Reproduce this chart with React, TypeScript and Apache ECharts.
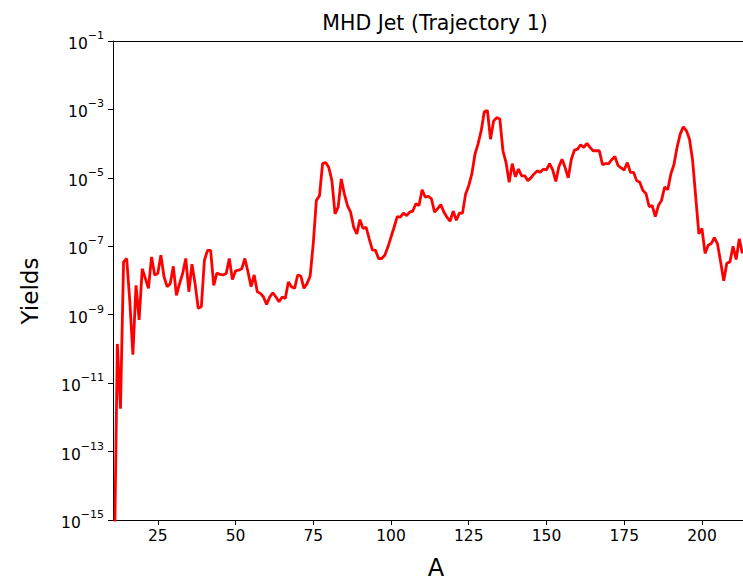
import React, { useEffect, useRef } from "react";
import * as echarts from "echarts";

const titleText = "MHD Jet (Trajectory 1)";
const xAxisName = "A";
const yAxisName = "Yields";

const xTickValues = [25, 50, 75, 100, 125, 150, 175, 200];
const yTickValues = [1e-15, 1e-13, 1e-11, 1e-9, 1e-7, 1e-5, 1e-3, 1e-1];

const massNumbers = [
  11, 12, 13, 14, 15, 16, 17, 18, 19, 20,
  21, 22, 23, 24, 25, 26, 27, 28, 29, 30,
  31, 32, 33, 34, 35, 36, 37, 38, 39, 40,
  41, 42, 43, 44, 45, 46, 47, 48, 49, 50,
  51, 52, 53, 54, 55, 56, 57, 58, 59, 60,
  61, 62, 63, 64, 65, 66, 67, 68, 69, 70,
  71, 72, 73, 74, 75, 76, 77, 78, 79, 80,
  81, 82, 83, 84, 85, 86, 87, 88, 89, 90,
  91, 92, 93, 94, 95, 96, 97, 98, 99, 100,
  101, 102, 103, 104, 105, 106, 107, 108, 109, 110,
  111, 112, 113, 114, 115, 116, 117, 118, 119, 120,
  121, 122, 123, 124, 125, 126, 127, 128, 129, 130,
  131, 132, 133, 134, 135, 136, 137, 138, 139, 140,
  141, 142, 143, 144, 145, 146, 147, 148, 149, 150,
  151, 152, 153, 154, 155, 156, 157, 158, 159, 160,
  161, 162, 163, 164, 165, 166, 167, 168, 169, 170,
  171, 172, 173, 174, 175, 176, 177, 178, 179, 180,
  181, 182, 183, 184, 185, 186, 187, 188, 189, 190,
  191, 192, 193, 194, 195, 196, 197, 198, 199, 200,
  201, 202, 203, 204, 205, 206, 207, 208, 209, 210,
  211, 212, 213,
];

const yields = [
  // 11-20
  3.2e-17, 1.4e-10, 1.8e-12, 3.5e-8, 4.4e-8, 2.5e-9, 6.8e-11, 7.2e-9, 7.1e-10, 2.2e-8,
  // 21-30
  1.15e-8, 5.9e-9, 4.9e-8, 1.45e-8, 1.6e-8, 5.5e-8, 1.3e-8, 6.6e-9, 8.1e-9, 2.6e-8,
  // 31-40
  3.7e-9, 8.1e-9, 1.6e-8, 4.4e-8, 4.7e-9, 3.0e-8, 8.1e-9, 1.55e-9, 1.7e-9, 3.9e-8,
  // 41-50
  7.6e-8, 7.6e-8, 7.2e-9, 1.65e-8, 1.5e-8, 1.45e-8, 1.6e-8, 4.4e-8, 1.07e-8, 1.9e-8,
  // 51-60
  2.0e-8, 2.2e-8, 4.4e-8, 1.8e-8, 6.6e-9, 1.45e-8, 4.7e-9, 4.2e-9, 3.3e-9, 2.0e-9,
  // 61-70
  3.3e-9, 4.4e-9, 3.3e-9, 2.4e-9, 3.3e-9, 3.0e-9, 9.1e-9, 6.6e-9, 5.9e-9, 1.45e-8,
  // 71-80
  1.35e-8, 5.9e-9, 8.1e-9, 1.35e-8, 1.2e-7, 2.2e-6, 3.0e-6, 2.6e-5, 2.8e-5, 2.0e-5,
  // 81-90
  8.3e-6, 8.9e-7, 1.4e-6, 9.3e-6, 3.4e-6, 1.55e-6, 1.0e-6, 3.6e-7, 2.3e-7, 6.0e-7,
  // 91-100
  3.3e-7, 3.6e-7, 1.65e-7, 7.9e-8, 7.6e-8, 4.4e-8, 4.4e-8, 5.5e-8, 9.5e-8, 1.85e-7,
  // 101-110
  3.6e-7, 7.4e-7, 7.1e-7, 9.3e-7, 7.9e-7, 1.0e-6, 1.07e-6, 1.75e-6, 1.55e-6, 4.5e-6,
  // 111-120
  2.75e-6, 2.9e-6, 2.45e-6, 1.0e-6, 1.25e-6, 1.65e-6, 1.0e-6, 7.1e-7, 5.4e-7, 1.07e-6,
  // 121-130
  5.75e-7, 9.3e-7, 9.3e-7, 3.4e-6, 5.9e-6, 1.3e-5, 4.9e-5, 9.8e-5, 2.35e-4, 8.5e-4,
  // 131-140
  9.3e-4, 1.35e-4, 4.6e-4, 5.75e-4, 5.25e-4, 6.2e-5, 2.8e-5, 7.4e-6, 2.6e-5, 1.07e-5,
  // 141-150
  1.8e-5, 1.15e-5, 1.15e-5, 8.3e-6, 1.0e-5, 1.3e-5, 1.6e-5, 1.45e-5, 1.8e-5, 1.7e-5,
  // 151-160
  2.6e-5, 1.7e-5, 7.9e-6, 2.15e-5, 3.5e-5, 2.0e-5, 1.0e-5, 3.5e-5, 6.5e-5, 6.9e-5,
  // 161-170
  9.3e-5, 7.8e-5, 1.02e-4, 7.8e-5, 6.2e-5, 6.2e-5, 6.2e-5, 2.45e-5, 2.6e-5, 2.6e-5,
  // 171-180
  3.4e-5, 4.2e-5, 2.3e-5, 1.95e-5, 1.7e-5, 2.8e-5, 1.45e-5, 1.45e-5, 8.3e-6, 7.4e-6,
  // 181-190
  4.3e-6, 3.5e-6, 1.45e-6, 1.55e-6, 7.4e-7, 1.55e-6, 2.2e-6, 5.4e-6, 4.5e-6, 1.3e-5,
  // 191-200
  2.45e-5, 7.8e-5, 1.9e-4, 3.1e-4, 2.4e-4, 1.35e-4, 3.2e-5, 2.75e-6, 2.3e-7, 3.3e-7,
  // 201-210
  6.2e-8, 1.07e-7, 1.2e-7, 1.8e-7, 1.17e-7, 3.5e-8, 9.8e-9, 3.2e-8, 3.5e-8, 1.0e-7,
  // 211-213
  4.1e-8, 1.65e-7, 6.2e-8,
];

const FONT = "DejaVu Sans";

export default function App() {
  const ref = useRef<HTMLDivElement>(null);

  useEffect(() => {
    if (!ref.current) return;
    const chart = echarts.init(ref.current, undefined, { renderer: "svg" });
    const seriesData = massNumbers.map((a, i) => [a, yields[i]]);

    const option: any = {
      animation: false,
      backgroundColor: "#ffffff",
      grid: { left: 113, right: 0, top: 41, bottom: 61, containLabel: false },
      xAxis: [
        {
          type: "value",
          min: 10.6,
          max: 213.2,
          position: "bottom",
          axisLine: { show: true, onZero: false, lineStyle: { color: "#000", width: 1 } },
          axisTick: { show: true, length: 5, customValues: xTickValues, lineStyle: { color: "#000", width: 1 } },
          axisLabel: {
            customValues: xTickValues,
            color: "#000",
            fontFamily: FONT,
            fontSize: 15.5,
            margin: 8,
          },
          splitLine: { show: false },
        },
        {
          type: "value",
          min: 10.6,
          max: 213.2,
          position: "top",
          axisLine: { show: true, onZero: false, lineStyle: { color: "#000", width: 1 } },
          axisTick: { show: false },
          axisLabel: { show: false },
          splitLine: { show: false },
        },
      ],
      yAxis: {
        type: "log",
        logBase: 10,
        min: 1e-15,
        max: 1e-1,
        axisLine: { show: true, onZero: false, lineStyle: { color: "#000", width: 1 } },
        axisTick: { show: true, length: 5, customValues: yTickValues, lineStyle: { color: "#000", width: 1 } },
        minorTick: { show: false },
        splitLine: { show: false },
        axisLabel: {
          customValues: yTickValues,
          margin: 9,
          formatter: (value: number) => {
            const e = Math.round(Math.log10(value));
            return `{b|10}{s|\u2212${Math.abs(e)}}`;
          },
          rich: {
            b: { fontFamily: FONT, fontSize: 15.5, color: "#000", lineHeight: 22, verticalAlign: "bottom" },
            s: { fontFamily: FONT, fontSize: 11, color: "#000", lineHeight: 13, verticalAlign: "top" },
          },
        },
      },
      graphic: [
        {
          type: "text",
          x: 435,
          y: 23,
          style: {
            text: titleText,
            fontFamily: FONT,
            fontSize: 20.5,
            fill: "#000",
            textAlign: "center",
            textVerticalAlign: "middle",
          },
        },
        {
          type: "text",
          x: 436,
          y: 568,
          style: {
            text: xAxisName,
            fontFamily: FONT,
            fontSize: 24,
            fill: "#000",
            textAlign: "center",
            textVerticalAlign: "middle",
          },
        },
        {
          type: "text",
          x: 30,
          y: 291,
          rotation: Math.PI / 2,
          style: {
            text: yAxisName,
            fontFamily: FONT,
            fontSize: 23,
            fill: "#000",
            textAlign: "center",
            textVerticalAlign: "middle",
          },
        },
      ],
      series: [
        {
          type: "line",
          data: seriesData,
          xAxisIndex: 0,
          showSymbol: false,
          symbol: "none",
          clip: true,
          lineStyle: { color: "#ff0000", width: 2.8 },
        },
      ],
    };

    chart.setOption(option);
    return () => chart.dispose();
  }, []);

  return (
    <div
      ref={ref}
      style={{ position: "absolute", left: 0, top: 0, width: 743, height: 581 }}
    />
  );
}
